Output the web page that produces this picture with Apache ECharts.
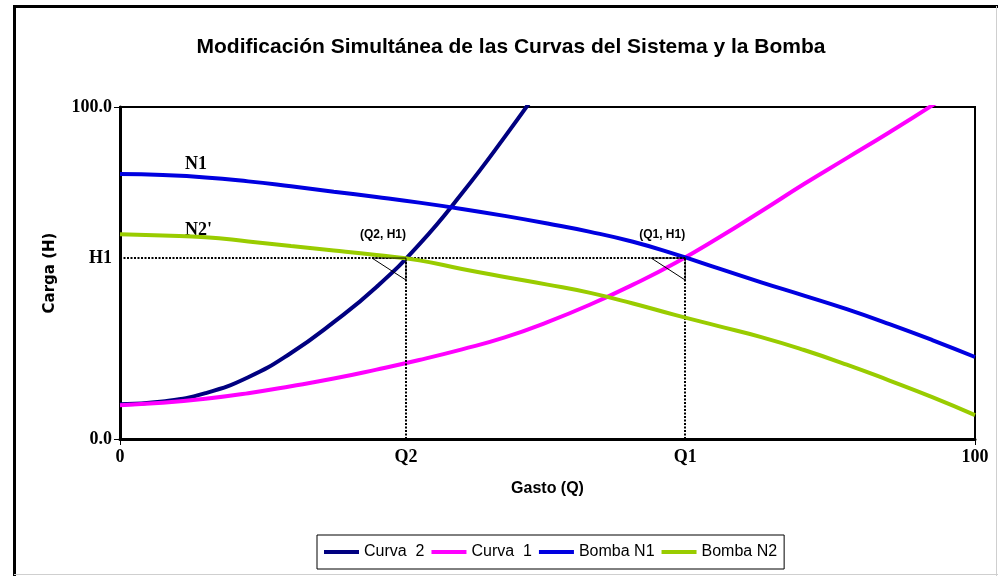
<!DOCTYPE html>
<html>
<head>
<meta charset="utf-8">
<script src="https://cdn.jsdelivr.net/npm/echarts@6/dist/echarts.min.js"></script>
<style>
html,body{margin:0;padding:0;background:#fff;}
#c{width:998px;height:576px;}
</style>
</head>
<body>
<div id="c"></div>
<script>
// ---- data ----
const gasto = [0,5,10,15,20,25,30,35,40,45,50,55,60,65,70,75,80,85,90,95,100];
const curva2 = [10.5,11.3,13.8,18.6,25.9,35.2,45.8,58.6,74.0,91.0,109.0]; // Q = 0..50
const curva1 = [10.2,10.9,12.1,13.8,15.9,18.2,20.9,23.8,27.0,30.6,35.2,40.5,46.5,53.1,60.6,68.6,76.8,84.6,92.4,100.5,109.0];
const bombaN1 = [79.8,79.5,78.8,77.6,76.1,74.5,72.9,71.2,69.3,67.2,64.9,62.4,59.4,55.6,51.4,47.2,43.2,39.1,34.6,29.8,24.7];
const bombaN2 = [61.7,61.3,60.8,59.5,58.1,56.8,55.4,53.8,51.2,48.8,46.5,44.0,40.8,37.3,34.0,30.7,26.8,22.4,17.6,12.6,7.2];
const seriesNames = ['Curva  2','Curva  1','Bomba N1','Bomba N2'];
const Q2 = 33.45, Q1 = 66.1, H1 = 54.5;
const xTickValues = [0, Q2, Q1, 100];
const xTickLabels = ['0','Q2','Q1','100'];
const yTickValues = [0, H1, 100];
const yTickLabels = ['0.0','H1','100.0'];
const pointLabels = ['(Q2, H1)','(Q1, H1)'];

function zip(xs, ys){ return ys.map((y,i)=>[xs[i], y]); }

const chart = echarts.init(document.getElementById('c'), null, {renderer:'canvas'});
const serif = '"Liberation Serif","Times New Roman",serif';
const sans = '"Liberation Sans",Arial,sans-serif';

const option = {
  backgroundColor:'#fff',
  animation:false,
  title:{
    text:'Modificación Simultánea de las Curvas del Sistema y la Bomba',
    left:506, top:32, textAlign:'center',
    textStyle:{fontFamily:sans, fontWeight:'bold', fontSize:21, color:'#000'}
  },
  grid:{left:120, right:23, top:107, bottom:137, show:true, borderColor:'#000', borderWidth:2, backgroundColor:'#fff'},
  legend:{
    data:seriesNames.map(n=>({name:n, icon:'rect'})),
    left:317, top:535, orient:'horizontal',
    itemWidth:35, itemHeight:4, itemGap:7,
    padding:[7,7], borderColor:'#000', borderWidth:1,
    textStyle:{fontFamily:sans, fontSize:16, color:'#000', lineHeight:20}
  },
  xAxis:{
    type:'value', min:0, max:100,
    name:'Gasto (Q)', nameLocation:'middle', nameGap:42,
    nameTextStyle:{fontFamily:sans, fontWeight:'bold', fontSize:16, color:'#000'},
    axisLine:{lineStyle:{color:'#000', width:3}},
    axisTick:{show:true, customValues:[0,100], length:6, lineStyle:{color:'#000', width:1}},
    axisLabel:{customValues:xTickValues, margin:9,
      formatter:v=>{const i=xTickValues.indexOf(v); return i>=0?xTickLabels[i]:'';},
      fontFamily:serif, fontWeight:'bold', fontSize:18, color:'#000'},
    splitLine:{show:false}
  },
  yAxis:{
    type:'value', min:0, max:100,
    name:'Carga (H)', nameLocation:'middle', nameGap:62, nameRotate:90,
    nameTextStyle:{fontFamily:'"DejaVu Sans",sans-serif', fontWeight:'bold', fontSize:15, color:'#000'},
    axisLine:{lineStyle:{color:'#000', width:3}},
    axisTick:{show:true, customValues:[0,100], length:6, lineStyle:{color:'#000', width:1}},
    axisLabel:{customValues:yTickValues, margin:8,
      formatter:v=>{const i=yTickValues.indexOf(v); return i>=0?yTickLabels[i]:'';},
      fontFamily:serif, fontWeight:'bold', fontSize:18, color:'#000'},
    splitLine:{show:false}
  },
  series:[
    {name:seriesNames[0], type:'line', data:zip(gasto, curva2), smooth:true, showSymbol:false, clip:true,
     lineStyle:{color:'#000080', width:4}, itemStyle:{color:'#000080'}, z:2},
    {name:seriesNames[1], type:'line', data:zip(gasto, curva1), smooth:true, showSymbol:false, clip:true,
     lineStyle:{color:'#FF00FF', width:4}, itemStyle:{color:'#FF00FF'}, z:3},
    {name:seriesNames[2], type:'line', data:zip(gasto, bombaN1), smooth:true, showSymbol:false, clip:true,
     lineStyle:{color:'#0000E0', width:4}, itemStyle:{color:'#0000E0'}, z:4},
    {name:seriesNames[3], type:'line', data:zip(gasto, bombaN2), smooth:true, showSymbol:false, clip:true,
     lineStyle:{color:'#99CC00', width:4}, itemStyle:{color:'#99CC00'}, z:5},
    {name:'puntos', type:'custom', z:6, silent:true,
     data:[[Q2,H1],[Q1,H1]],
     renderItem:function(params, api){
       const p = api.coord([api.value(0), api.value(1)]);
       return {type:'group', children:[
         {type:'polyline', shape:{points:[[p[0],p[1]+22],[p[0]-34,p[1]],[p[0],p[1]],[p[0],p[1]+22]]},
          style:{fill:null, stroke:'#000', lineWidth:1}},
         {type:'text', style:{text:pointLabels[params.dataIndex], x:p[0]-23, y:p[1]-23,
          font:'bold 12px "Liberation Sans", Arial, sans-serif', align:'center', verticalAlign:'middle', fill:'#000'}}
       ]};
     },
     markLine:{silent:true, symbol:'none', label:{show:false},
       lineStyle:{color:'#000', width:2, type:[2,1.5]},
       data:[
         [{coord:[0,H1]},{coord:[Q1,H1]}],
         [{coord:[Q2,0]},{coord:[Q2,H1]}],
         [{coord:[Q1,0]},{coord:[Q1,H1]}]
       ]}
    }
  ],
  graphic:[
    {type:'rect', shape:{x:14.5, y:6.5, width:1100, height:1100}, style:{fill:null, stroke:'#000', lineWidth:3}, z:-1},
    {type:'line', shape:{x1:14, y1:574.5, x2:998, y2:574.5}, style:{stroke:'#cfcfcf', lineWidth:1}},
    {type:'line', shape:{x1:996.5, y1:6, x2:996.5, y2:576}, style:{stroke:'#cfcfcf', lineWidth:1}},
    {type:'text', left:185, top:155, style:{text:'N1', font:'bold 18px "Liberation Serif", "Times New Roman", serif', fill:'#000'}},
    {type:'text', left:185, top:221, style:{text:"N2'", font:'bold 18px "Liberation Serif", "Times New Roman", serif', fill:'#000'}}
  ]
};
chart.setOption(option);
</script>
</body>
</html>
